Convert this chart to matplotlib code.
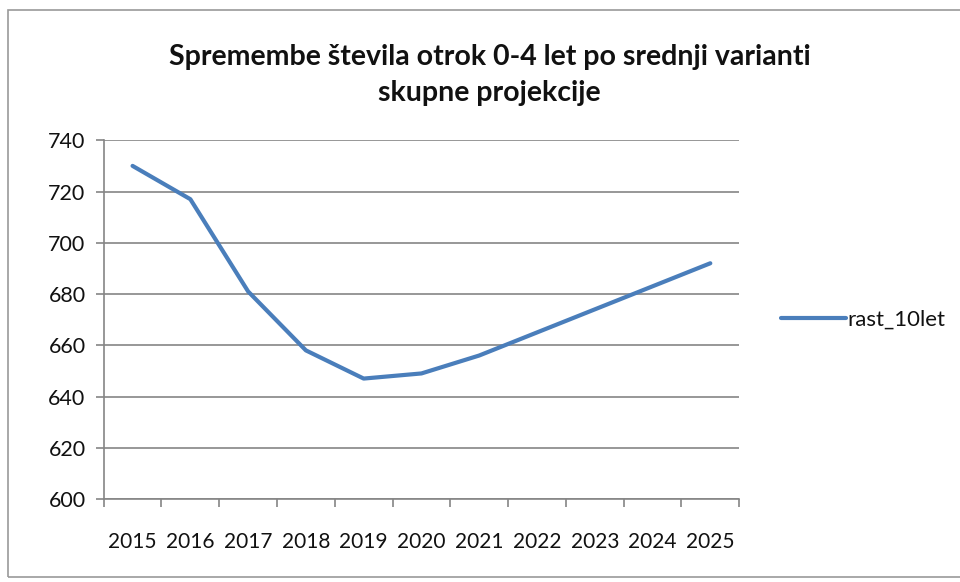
import numpy as np
import matplotlib.pyplot as plt
from matplotlib.patches import Rectangle

# Podatki
years = ['2015', '2016', '2017', '2018', '2019', '2020',
         '2021', '2022', '2023', '2024', '2025']
rast_10let = [730, 717, 681, 658, 647, 649, 656, 665, 674, 683, 692]
y_ticks = [600, 620, 640, 660, 680, 700, 720, 740]

plt.rcParams['font.family'] = ['Lato', 'DejaVu Sans']

fig = plt.figure(figsize=(9.6, 5.82), dpi=100)
ax = fig.add_axes([0.108, 0.1426, 0.662, 0.6164])

x = np.arange(len(years))
ax.plot(x, rast_10let, color='#4a7ebb', linewidth=3.0,
        solid_joinstyle='round', solid_capstyle='round', label='rast_10let')

ax.set_xlim(-0.5, len(years) - 0.5)
ax.set_ylim(600, 740)
ax.set_yticks(y_ticks)
ax.set_xticks(x)
ax.set_xticklabels(years)
ax.set_xticks(np.arange(-0.5, len(years)), minor=True)

ax.grid(axis='y', color='#858585', linewidth=1.2)
ax.set_axisbelow(True)
for s in ['top', 'right']:
    ax.spines[s].set_visible(False)
for s in ['left', 'bottom']:
    ax.spines[s].set_color('#858585')
    ax.spines[s].set_linewidth(1.2)

ax.tick_params(axis='y', length=6, width=1.2, color='#858585',
               labelsize=15.5, labelcolor='#111111', pad=7)
ax.tick_params(axis='x', which='major', length=0, labelsize=15,
               labelcolor='#111111', pad=24)
ax.tick_params(axis='x', which='minor', length=6, width=1.2, color='#858585')

fig.text(0.51, 0.925, 'Spremembe števila otrok 0-4 let po srednji varianti\nskupne projekcije',
         ha='center', va='top', fontsize=20.5, fontweight='bold',
         color='#111111', linespacing=1.5)

ax.legend(loc='center left', bbox_to_anchor=(1.035, 0.5), frameon=False,
          fontsize=16, handlelength=2.9, handletextpad=0.05,
          labelcolor='#111111')

fig.patches.append(Rectangle((0.008, 0.008), 1.2, 0.975, transform=fig.transFigure,
                             fill=False, edgecolor='#9a9a9a', linewidth=1.2))

fig.savefig('out.png', dpi=100)
